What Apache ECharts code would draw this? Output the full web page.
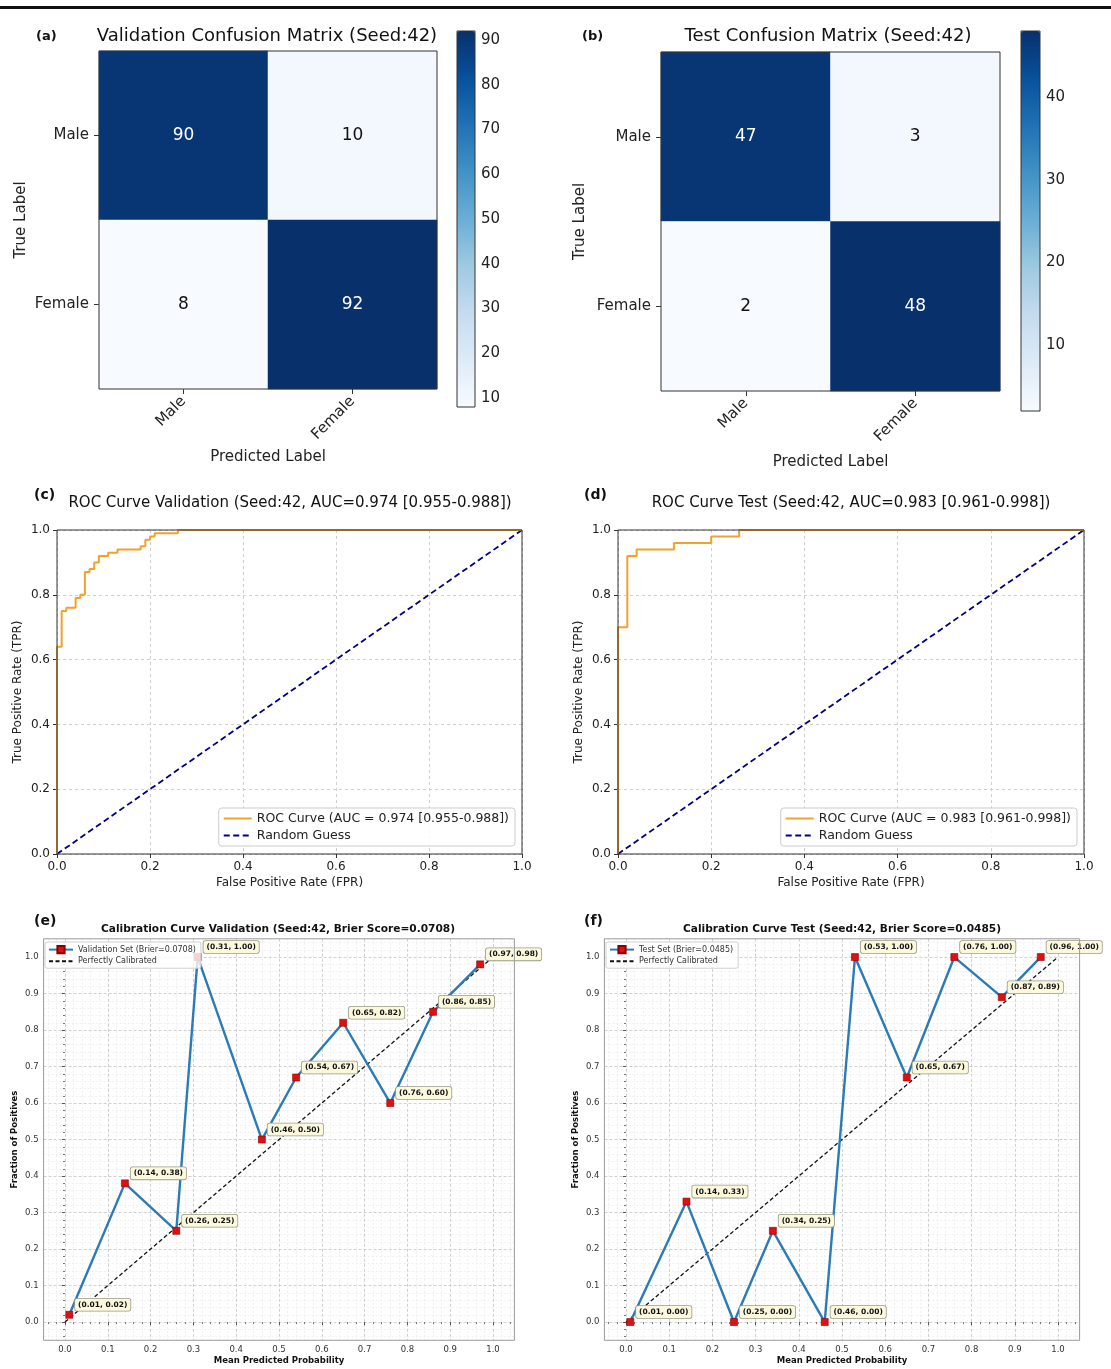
<!DOCTYPE html>
<html><head><meta charset="utf-8">
<script src="https://cdn.jsdelivr.net/npm/echarts@6/dist/echarts.min.js"></script>
<style>html,body{margin:0;padding:0;background:#fff}#c{width:1111px;height:1369px}</style>
</head><body><div id="c"></div>
<script>
// ---------------- data ----------------
const cmClasses = ['Male', 'Female'];
const cmValidation = [[90, 10], [8, 92]];   // rows: true label, cols: predicted
const cmTest = [[47, 3], [2, 48]];
const cbTicksValidation = [10, 20, 30, 40, 50, 60, 70, 80, 90];
const cbTicksTest = [10, 20, 30, 40];

const rocTicks = [0, 0.2, 0.4, 0.6, 0.8, 1.0];
const rocValFpr = [0,0,0.01,0.01,0.02,0.02,0.04,0.04,0.05,0.05,0.06,0.06,0.07,0.07,0.08,0.08,0.09,0.09,0.11,0.11,0.13,0.13,0.18,0.18,0.19,0.19,0.20,0.20,0.21,0.21,0.26,0.26,1.0];
const rocValTpr = [0,0.64,0.64,0.75,0.75,0.76,0.76,0.79,0.79,0.80,0.80,0.87,0.87,0.88,0.88,0.90,0.90,0.92,0.92,0.93,0.93,0.94,0.94,0.95,0.95,0.97,0.97,0.98,0.98,0.99,0.99,1.0,1.0];
const rocTestFpr = [0,0,0.02,0.02,0.04,0.04,0.12,0.12,0.20,0.20,0.26,0.26,1.0];
const rocTestTpr = [0,0.70,0.70,0.92,0.92,0.94,0.94,0.96,0.96,0.98,0.98,1.0,1.0];
const randomX = [0, 1];
const randomY = [0, 1];

const calTicks = [0, 0.1, 0.2, 0.3, 0.4, 0.5, 0.6, 0.7, 0.8, 0.9, 1.0];
const calValX = [0.01, 0.14, 0.26, 0.31, 0.46, 0.54, 0.65, 0.76, 0.86, 0.97];
const calValY = [0.02, 0.38, 0.25, 1.00, 0.50, 0.67, 0.82, 0.60, 0.85, 0.98];
const calTestX = [0.01, 0.14, 0.25, 0.34, 0.46, 0.53, 0.65, 0.76, 0.87, 0.96];
const calTestY = [0.00, 0.33, 0.00, 0.25, 0.00, 1.00, 0.67, 1.00, 0.89, 1.00];
const perfectX = [0, 1];
const perfectY = [0, 1];

const nameRocVal = 'ROC Curve (AUC = 0.974 [0.955-0.988])';
const nameRocTest = 'ROC Curve (AUC = 0.983 [0.961-0.998])';
const nameCalVal = 'Validation Set (Brier=0.0708)';
const nameCalTest = 'Test Set (Brier=0.0485)';

// ---------------- helpers ----------------
const FONT = '"DejaVu Sans", "Liberation Sans", sans-serif';
const BLUES = ['#f7fbff','#deebf7','#c6dbef','#9ecae1','#6baed6','#4292c6','#2171b5','#08519c','#08306b'];
const CLEAR = 'rgba(0,0,0,0)';
const zip = (a, b) => a.map((v, i) => [v, b[i]]);
const flat = m => m.reduce((a, r) => a.concat(r), []);
function heatData(m) {
  const f = flat(m), lo = Math.min(...f), hi = Math.max(...f), mid = (lo + hi) / 2;
  const out = [];
  m.forEach((row, i) => row.forEach((v, j) => out.push({ value: [j, i, v], label: { color: v > mid ? '#ffffff' : '#111111' } })));
  return out;
}
const txt = '#222';

function heatAxes(gi, nameGapX, nameGapY) {
  return {
    x: { gridIndex: gi, type: 'category', data: cmClasses, axisLine: { show: false },
      axisTick: { show: true, alignWithLabel: true, length: 5, lineStyle: { color: '#333' } },
      axisLabel: { rotate: 45, fontSize: 15, color: txt, margin: 10, fontFamily: FONT },
      name: 'Predicted Label', nameLocation: 'middle', nameGap: nameGapX,
      nameTextStyle: { fontSize: 15, color: txt, fontFamily: FONT }, splitLine: { show: false } },
    y: { gridIndex: gi, type: 'category', data: cmClasses, inverse: true, axisLine: { show: false },
      axisTick: { show: true, alignWithLabel: true, length: 5, lineStyle: { color: '#333' } },
      axisLabel: { fontSize: 15, color: txt, margin: 10, fontFamily: FONT },
      name: 'True Label', nameLocation: 'middle', nameGap: nameGapY, nameRotate: 90,
      nameTextStyle: { fontSize: 15, color: txt, fontFamily: FONT }, splitLine: { show: false } }
  };
}
function cbAxes(gi, m, ticks) {
  const f = flat(m);
  return {
    x: { gridIndex: gi, type: 'value', show: false, min: 0, max: 1 },
    y: { gridIndex: gi, type: 'value', position: 'right', min: Math.min(...f), max: Math.max(...f),
      axisLine: { show: false },
      axisTick: { show: true, customValues: ticks, length: 4, lineStyle: { color: '#333' } },
      axisLabel: { customValues: ticks, fontSize: 15, color: txt, margin: 6, fontFamily: FONT },
      splitLine: { show: false } }
  };
}
function rocAxes(gi) {
  const lab = { fontSize: 12, color: txt, margin: 7, fontFamily: FONT };
  const split = { show: true, lineStyle: { color: '#cfcfcf', type: [3, 3], width: 1 } };
  return {
    x: { gridIndex: gi, type: 'value', min: 0, max: 1, interval: 0.2, axisLine: { show: false },
      axisTick: { show: true, customValues: rocTicks, length: 4, lineStyle: { color: '#333' } },
      axisLabel: { ...lab, customValues: rocTicks, formatter: v => v.toFixed(1) }, splitLine: split,
      name: 'False Positive Rate (FPR)', nameLocation: 'middle', nameGap: 23,
      nameTextStyle: { fontSize: 12, color: txt, fontFamily: FONT } },
    y: { gridIndex: gi, type: 'value', min: 0, max: 1, interval: 0.2, axisLine: { show: false },
      axisTick: { show: true, customValues: rocTicks, length: 4, lineStyle: { color: '#333' } },
      axisLabel: { ...lab, customValues: rocTicks, formatter: v => v.toFixed(1) }, splitLine: split,
      name: 'True Positive Rate (TPR)', nameLocation: 'middle', nameGap: 33, nameRotate: 90,
      nameTextStyle: { fontSize: 12, color: txt, fontFamily: FONT } }
  };
}
function calAxes(gi) {
  const lab = { fontSize: 8.5, color: '#333', margin: 5, fontFamily: FONT };
  const split = { show: true, lineStyle: { color: '#c4c4c4', type: [3, 2], width: 0.8 } };
  const minor = { show: true, lineStyle: { color: '#e6e6e6', type: [2, 2], width: 0.6 } };
  const mk = (nm, gap, extra) => Object.assign({
    gridIndex: gi, type: 'value', min: -0.05, max: 1.05, splitNumber: 11, axisLine: { show: false },
    axisTick: { show: true, customValues: calTicks, length: 3, lineStyle: { color: '#555' } },
    minorTick: { show: true, splitNumber: 5, length: 2, lineStyle: { color: '#777' } },
    axisLabel: { ...lab, customValues: calTicks, formatter: v => v.toFixed(1) },
    splitLine: split, minorSplitLine: minor,
    name: nm, nameLocation: 'middle', nameGap: gap,
    nameTextStyle: { fontSize: 8.5, fontWeight: 'bold', color: '#111', fontFamily: FONT }
  }, extra);
  return {
    x: mk('Mean Predicted Probability', 16, {}),
    y: mk('Fraction of Positives', 24, { nameRotate: 90 })
  };
}

const hA = heatAxes(0, 61, 70), cA = cbAxes(1, cmValidation, cbTicksValidation);
const hB = heatAxes(2, 64, 73), cB = cbAxes(3, cmTest, cbTicksTest);
const rC = rocAxes(4), rD = rocAxes(5);
const kE = calAxes(6), kF = calAxes(7);

const frameGrid = (l, t, w, h, col, bw) => ({ left: l, top: t, width: w, height: h, show: true, z: 10,
  backgroundColor: 'transparent', borderColor: col, borderWidth: bw, containLabel: false, outerBoundsMode: 'none' });

function calSeries(name, xs, ys, gi) {
  return {
    type: 'line', name, xAxisIndex: gi, yAxisIndex: gi, data: zip(xs, ys),
    symbol: 'rect', symbolSize: 7, showAllSymbol: true,
    lineStyle: { color: '#2b7bb4', width: 2.4 },
    itemStyle: { color: '#e01010', borderColor: '#8a0000', borderWidth: 0.6 },
    label: { show: true, position: 'right', distance: 2, offset: [0, -10],
      formatter: p => '(' + p.value[0].toFixed(2) + ', ' + p.value[1].toFixed(2) + ')',
      fontSize: 7.5, fontWeight: 'bold', color: '#111', fontFamily: FONT,
      backgroundColor: '#fbf8dc', borderColor: '#9a9a8a', borderWidth: 0.8, borderRadius: 2, padding: [2, 3, 2, 3] },
    z: 3
  };
}
function perfectSeries(gi) {
  return { type: 'line', name: 'Perfectly Calibrated', xAxisIndex: gi, yAxisIndex: gi, data: zip(perfectX, perfectY),
    symbol: 'none', itemStyle: { color: CLEAR }, lineStyle: { color: '#111', width: 1.3, type: [4, 2.5] }, z: 2 };
}
function rocSeries(name, xs, ys, gi) {
  return { type: 'line', name, xAxisIndex: gi, yAxisIndex: gi, data: zip(xs, ys), symbol: 'none',
    itemStyle: { color: CLEAR }, lineStyle: { color: '#f2a12c', width: 2 }, z: 3 };
}
function randSeries(gi) {
  return { type: 'line', name: 'Random Guess', xAxisIndex: gi, yAxisIndex: gi, data: zip(randomX, randomY), symbol: 'none',
    itemStyle: { color: CLEAR }, lineStyle: { color: '#000080', width: 1.8, type: [6, 3.5] }, z: 2 };
}
function heatSeries(m, gi) {
  return { type: 'heatmap', xAxisIndex: gi, yAxisIndex: gi, data: heatData(m),
    label: { show: true, fontSize: 17, fontFamily: FONT, formatter: p => String(p.value[2]) },
    itemStyle: { borderWidth: 0 }, emphasis: { disabled: true } };
}

const gtext = (x, y, text, size, bold, align) => ({ type: 'text', x, y, z: 100,
  style: { text, fill: '#111', font: (bold ? 'bold ' : '') + size + 'px ' + FONT, align: align || 'left', verticalAlign: 'middle' } });

const fv = flat(cmValidation), ft = flat(cmTest);

const rocLegend = (data, right) => ({ data, orient: 'vertical', right, top: 808, itemWidth: 28, itemHeight: 12,
  itemGap: 4, padding: [4, 6, 4, 4], backgroundColor: 'rgba(255,255,255,0.85)', borderColor: '#cccccc', borderWidth: 1, borderRadius: 3,
  textStyle: { fontSize: 12.5, color: txt, fontFamily: FONT }, selectedMode: false });
const calLegend = (data, left) => ({ data, orient: 'vertical', left, top: 942, itemWidth: 24, itemHeight: 9,
  itemGap: 3, padding: [3, 5, 3, 3], backgroundColor: 'rgba(255,255,255,0.8)', borderColor: '#d0d0d0', borderWidth: 1, borderRadius: 2,
  textStyle: { fontSize: 8, color: '#333', fontFamily: FONT }, selectedMode: false });

const option = {
  animation: false,
  backgroundColor: '#ffffff',
  textStyle: { fontFamily: FONT },
  graphic: [
    { type: 'rect', shape: { x: 0, y: 6, width: 1111, height: 3 }, style: { fill: '#111' } },
    gtext(36, 37, '(a)', 13, true), gtext(267, 36, 'Validation Confusion Matrix (Seed:42)', 18, false, 'center'),
    gtext(582, 37, '(b)', 13, true), gtext(828, 36, 'Test Confusion Matrix (Seed:42)', 18, false, 'center'),
    gtext(34, 495, '(c)', 14, true), gtext(290, 503, 'ROC Curve Validation (Seed:42, AUC=0.974 [0.955-0.988])', 15, false, 'center'),
    gtext(584, 495, '(d)', 14, true), gtext(851, 503, 'ROC Curve Test (Seed:42, AUC=0.983 [0.961-0.998])', 15, false, 'center'),
    gtext(34, 921, '(e)', 14, true), gtext(278, 929, 'Calibration Curve Validation (Seed:42, Brier Score=0.0708)', 10.6, true, 'center'),
    gtext(584, 921, '(f)', 14, true), gtext(842, 929, 'Calibration Curve Test (Seed:42, Brier Score=0.0485)', 10.6, true, 'center')
  ],
  grid: [
    frameGrid(99, 51, 338, 338, '#333', 1),
    frameGrid(457, 31, 18, 376, '#333', 1),
    frameGrid(661, 52, 339, 339, '#333', 1),
    frameGrid(1021, 31, 19, 380, '#333', 1),
    frameGrid(57, 530, 465, 324, '#333', 1),
    frameGrid(618, 530, 466, 324, '#333', 1),
    frameGrid(43.6, 938.8, 470.8, 401.5, '#9a9a9a', 1),
    frameGrid(604.4, 938.8, 475.2, 401.5, '#9a9a9a', 1)
  ],
  xAxis: [hA.x, cA.x, hB.x, cB.x, rC.x, rD.x, kE.x, kF.x],
  yAxis: [hA.y, cA.y, hB.y, cB.y, rC.y, rD.y, kE.y, kF.y],
  visualMap: [
    { type: 'continuous', seriesIndex: 0, min: Math.min(...fv), max: Math.max(...fv), left: 457, top: 31,
      itemWidth: 18, itemHeight: 376, padding: 0, calculable: false, hoverLink: false, inRange: { color: BLUES } },
    { type: 'continuous', seriesIndex: 1, min: Math.min(...ft), max: Math.max(...ft), left: 1021, top: 31,
      itemWidth: 19, itemHeight: 380, padding: 0, calculable: false, hoverLink: false, inRange: { color: BLUES } }
  ],
  legend: [
    rocLegend([nameRocVal, 'Random Guess'], 596),
    rocLegend([nameRocTest, 'Random Guess'], 34),
    calLegend([nameCalVal, 'Perfectly Calibrated'], 45),
    calLegend([nameCalTest, 'Perfectly Calibrated'], 606)
  ],
  series: [
    heatSeries(cmValidation, 0),
    heatSeries(cmTest, 2),
    rocSeries(nameRocVal, rocValFpr, rocValTpr, 4), randSeries(4),
    rocSeries(nameRocTest, rocTestFpr, rocTestTpr, 5), randSeries(5),
    perfectSeries(6), calSeries(nameCalVal, calValX, calValY, 6),
    perfectSeries(7), calSeries(nameCalTest, calTestX, calTestY, 7)
  ]
};
const chart = echarts.init(document.getElementById('c'), null, { renderer: 'canvas' });
chart.setOption(option);
</script>
</body></html>
